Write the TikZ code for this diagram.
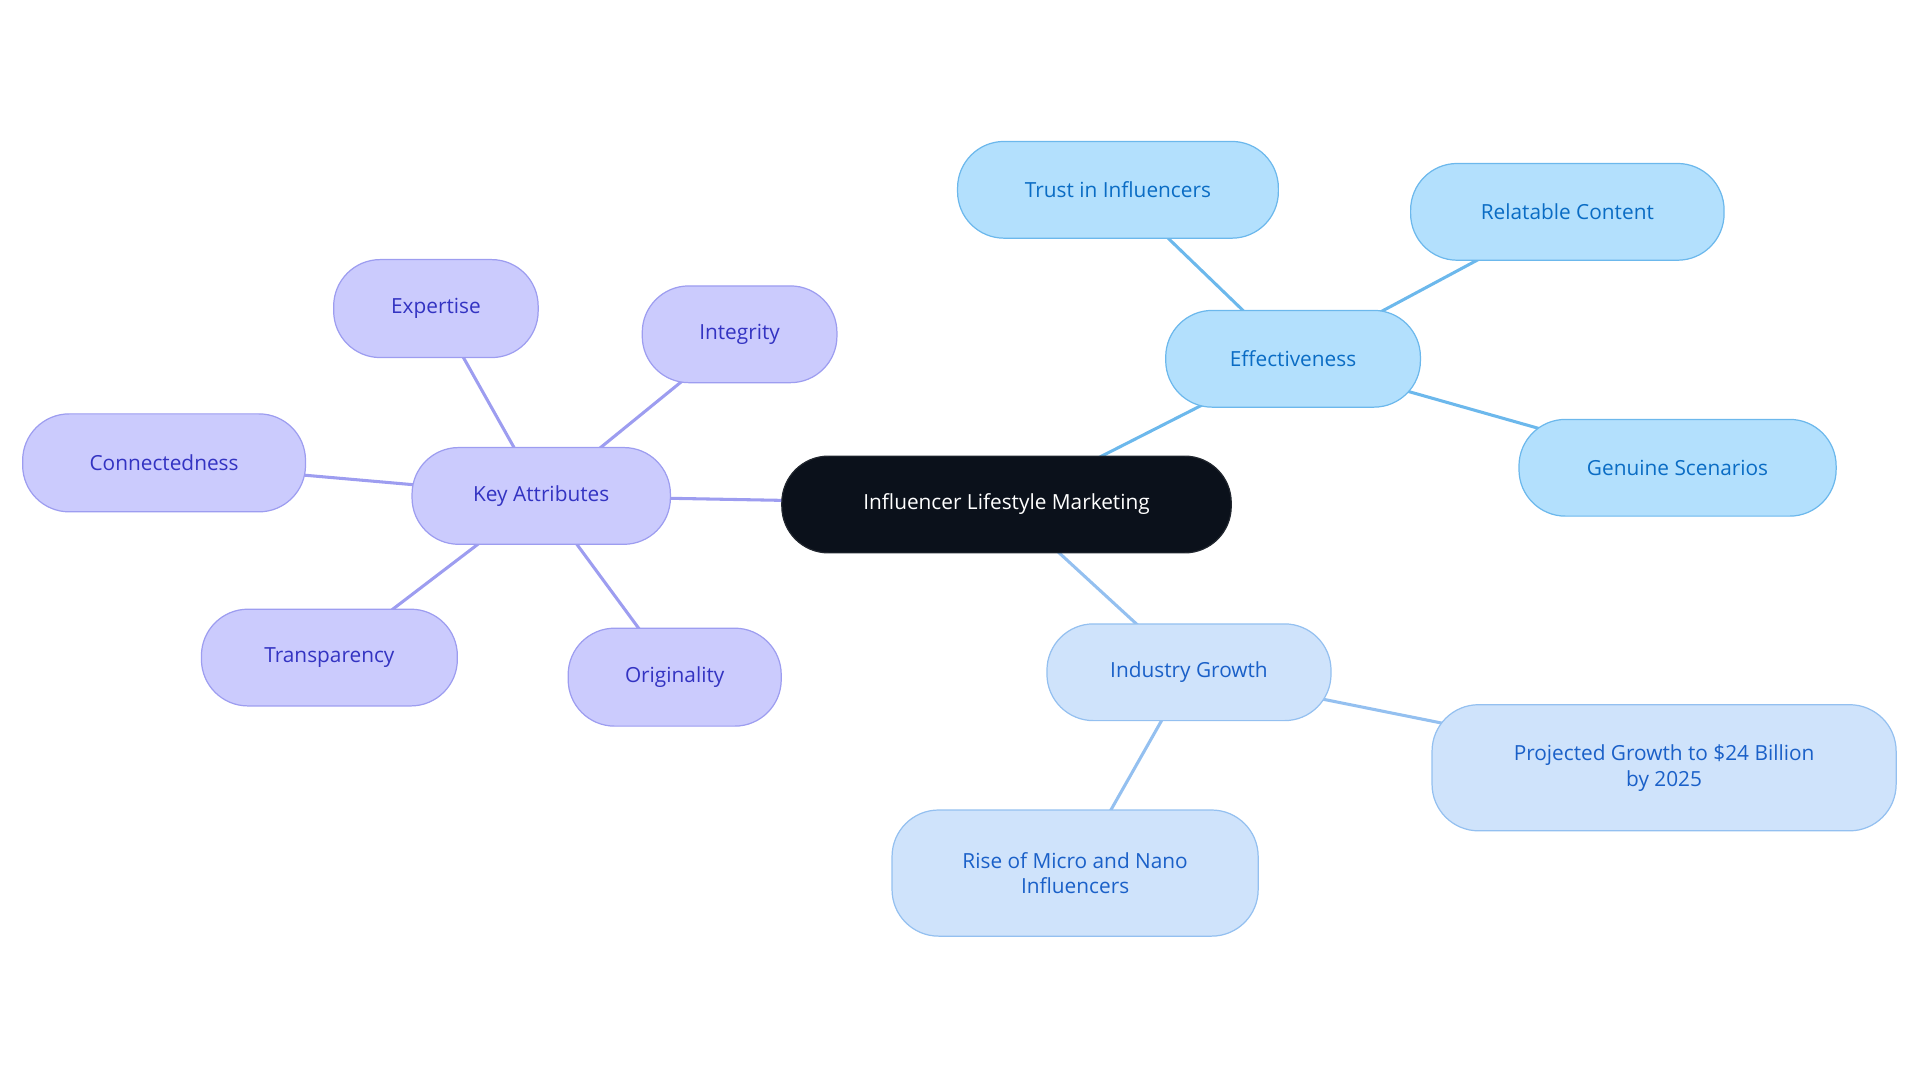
\documentclass[tikz,border=0pt]{standalone}
\usepackage{fontspec}
\setmainfont{Open Sans}
\usetikzlibrary{backgrounds}
\definecolor{pf}{HTML}{CBCBFD}\definecolor{pb}{HTML}{9D9DF0}\definecolor{pt}{HTML}{3333C2}
\definecolor{bf}{HTML}{B3E0FD}\definecolor{bb}{HTML}{6CB8EC}\definecolor{bt}{HTML}{0A6CC4}
\definecolor{lf}{HTML}{CFE3FB}\definecolor{lb}{HTML}{94C0F0}\definecolor{lt}{HTML}{1A60C8}
\definecolor{cf}{HTML}{0B111B}
\begin{document}
\begin{tikzpicture}[x=1pt,y=-1pt,
 base/.style={rounded corners=38pt,line width=1pt,align=center,font=\fontsize{17}{21}\selectfont,inner sep=0pt},
 pn/.style={base,fill=pf,draw=pb,text=pt},
 bn/.style={base,fill=bf,draw=bb,text=bt},
 ln/.style={base,fill=lf,draw=lb,text=lt},
 cn/.style={base,fill=cf,draw=cf!80!gray,text=white},
 pe/.style={draw=pb,line width=2.5pt},
 be/.style={draw=bb,line width=2.5pt},
 le/.style={draw=lb,line width=2.5pt}]
\useasboundingbox (0,0) rectangle (1568,884);
\node[cn,minimum width=367pt,minimum height=79pt] (c) at (822,412) {Influencer Lifestyle Marketing};
\node[pn,minimum width=211pt,minimum height=79pt] (k) at (442,405) {Key Attributes};
\node[pn,minimum width=167pt,minimum height=80pt] (ex) at (356,252) {Expertise};
\node[pn,minimum width=159pt,minimum height=79pt] (in) at (604,273) {Integrity};
\node[pn,minimum width=231pt,minimum height=80pt] (co) at (134,378) {Connectedness};
\node[pn,minimum width=209pt,minimum height=79pt] (tr) at (269,537) {Transparency};
\node[pn,minimum width=174pt,minimum height=80pt] (or) at (551,553) {Originality};
\node[bn,minimum width=208pt,minimum height=79pt] (ef) at (1056,293) {Effectiveness};
\node[bn,minimum width=262pt,minimum height=79pt] (tu) at (913,155) {Trust in Influencers};
\node[bn,minimum width=256pt,minimum height=79pt] (re) at (1280,173) {Relatable Content};
\node[bn,minimum width=259pt,minimum height=79pt] (ge) at (1370,382) {Genuine Scenarios};
\node[ln,minimum width=232pt,minimum height=79pt] (ig) at (971,549) {Industry Growth};
\node[ln,minimum width=379pt,minimum height=103pt] (pg) at (1359,627) {Projected Growth to \$24 Billion\\by 2025};
\node[ln,minimum width=299pt,minimum height=103pt] (ri) at (878,713) {Rise of Micro and Nano\\Influencers};
\begin{scope}[on background layer]
\draw[pe] (c.center)--(k.center);
\foreach \n in {ex,in,co,tr,or} \draw[pe] (k.center)--(\n.center);
\draw[be] (c.center)--(ef.center);
\foreach \n in {tu,re,ge} \draw[be] (ef.center)--(\n.center);
\draw[le] (c.center)--(ig.center);
\foreach \n in {pg,ri} \draw[le] (ig.center)--(\n.center);
\end{scope}
\end{tikzpicture}
\end{document}
